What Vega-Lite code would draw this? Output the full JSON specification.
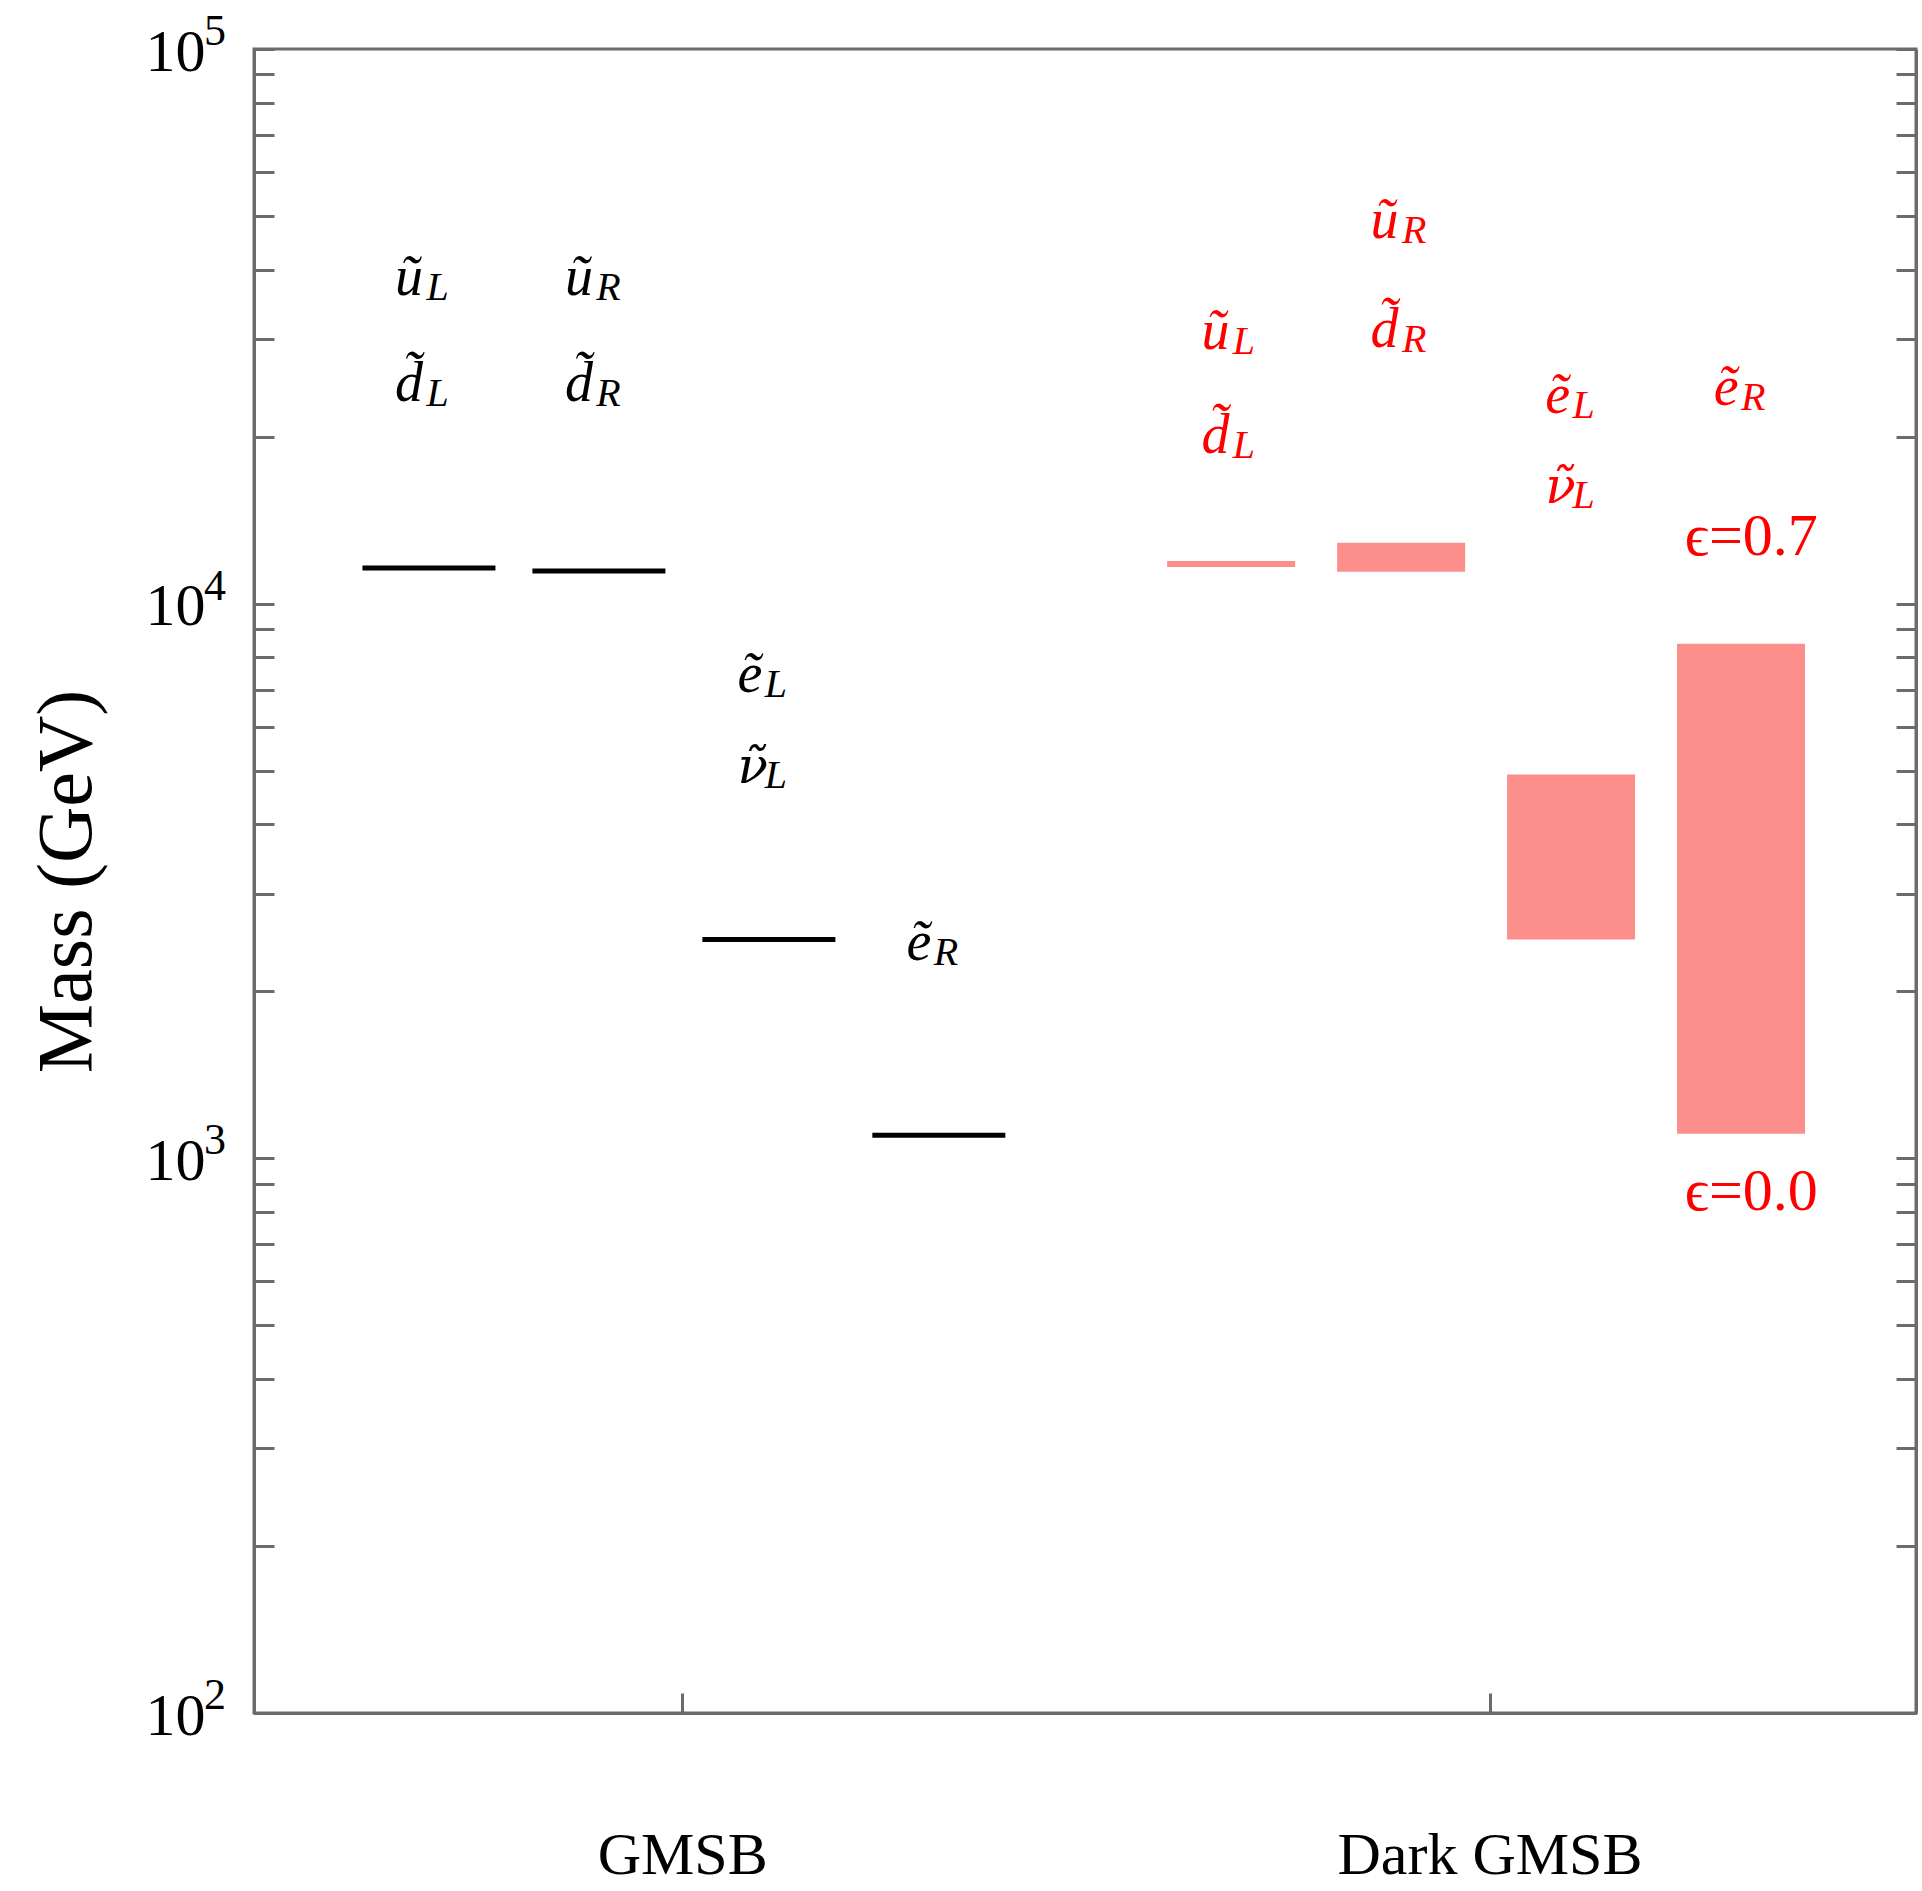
{
  "$schema": "https://vega.github.io/schema/vega-lite/v6.json",
  "width": 1662,
  "height": 1664,
  "autosize": {"type": "none"},
  "padding": {"left": 254, "top": 49, "right": 6, "bottom": 178},
  "background": "white",
  "config": {
    "view": {"stroke": "#6b6b6b", "strokeWidth": 3},
    "axis": {"grid": false}
  },
  "datasets": {
    "gmsb": [
      {"sparticle": "ũL d̃L", "c": 1, "mass": 11600},
      {"sparticle": "ũR d̃R", "c": 2, "mass": 11450},
      {"sparticle": "ẽL ν̃L", "c": 3, "mass": 2480},
      {"sparticle": "ẽR", "c": 4, "mass": 1100}
    ],
    "dark": [
      {"sparticle": "ũL d̃L", "c": 5.72, "lo": 11650, "hi": 11940},
      {"sparticle": "ũR d̃R", "c": 6.72, "lo": 11420, "hi": 12880},
      {"sparticle": "ẽL ν̃L", "c": 7.72, "lo": 2480, "hi": 4920},
      {"sparticle": "ẽR", "c": 8.72, "lo": 1107, "hi": 8470}
    ],
    "labels": [
      {"model": "GMSB", "main": "ũ", "sub": "L", "x": 0.8, "xs": 0.985, "m": 36000},
      {"model": "GMSB", "main": "d̃", "sub": "L", "x": 0.8, "xs": 0.985, "m": 23200},
      {"model": "GMSB", "main": "ũ", "sub": "R", "x": 1.8, "xs": 1.985, "m": 36000},
      {"model": "GMSB", "main": "d̃", "sub": "R", "x": 1.8, "xs": 1.985, "m": 23200},
      {"model": "GMSB", "main": "ẽ", "sub": "L", "x": 2.815, "xs": 2.975, "m": 6930},
      {"model": "GMSB", "main": "ν̃", "sub": "L", "x": 2.815, "xs": 2.975, "m": 4750},
      {"model": "GMSB", "main": "ẽ", "sub": "R", "x": 3.81, "xs": 3.97, "m": 2280},
      {"model": "Dark GMSB", "main": "ũ", "sub": "L", "x": 5.545, "xs": 5.73, "m": 28800},
      {"model": "Dark GMSB", "main": "d̃", "sub": "L", "x": 5.545, "xs": 5.73, "m": 18700},
      {"model": "Dark GMSB", "main": "ũ", "sub": "R", "x": 6.54, "xs": 6.725, "m": 45600},
      {"model": "Dark GMSB", "main": "d̃", "sub": "R", "x": 6.54, "xs": 6.725, "m": 29000},
      {"model": "Dark GMSB", "main": "ẽ", "sub": "L", "x": 7.568, "xs": 7.728, "m": 22070},
      {"model": "Dark GMSB", "main": "ν̃", "sub": "L", "x": 7.568, "xs": 7.728, "m": 15190},
      {"model": "Dark GMSB", "main": "ẽ", "sub": "R", "x": 8.56, "xs": 8.72, "m": 22820}
    ],
    "eps": [
      {"t": "ϵ=0.7", "x": 8.78, "m": 12240},
      {"t": "ϵ=0.0", "x": 8.78, "m": 807}
    ],
    "exps": [
      {"p": 100, "e": "2"},
      {"p": 1000, "e": "3"},
      {"p": 10000, "e": "4"},
      {"p": 100000, "e": "5"}
    ]
  },
  "resolve": {"axis": {"y": "independent"}},
  "layer": [
    {
      "data": {"name": "dark"},
      "mark": {"type": "bar", "width": 128, "color": "#fc8f8b", "opacity": 1},
      "encoding": {
        "x": {
          "field": "c", "type": "quantitative",
          "scale": {"domain": [0, 9.72], "nice": false, "zero": false},
          "axis": {
            "values": [2.49, 7.24],
            "labelExpr": "datum.value < 5 ? 'GMSB' : 'Dark GMSB'",
            "title": null,
            "tickSize": -20, "tickWidth": 3, "tickColor": "#6b6b6b",
            "domainColor": "#6b6b6b", "domainWidth": 3,
            "labelFont": "Liberation Serif", "labelFontSize": 60, "labelColor": "black",
            "labelBaseline": "alphabetic", "labelPadding": 180, "labelLimit": 0,
            "labelFlush": false, "labelOverlap": false
          }
        },
        "y": {
          "field": "lo", "type": "quantitative",
          "scale": {"type": "log", "domain": [100, 100000], "nice": false},
          "axis": {
            "orient": "left",
            "values": [100, 200, 300, 400, 500, 600, 700, 800, 900, 1000, 2000, 3000, 4000, 5000, 6000, 7000, 8000, 9000, 10000, 20000, 30000, 40000, 50000, 60000, 70000, 80000, 90000, 100000],
            "labelExpr": "datum.value == 100 || datum.value == 1000 || datum.value == 10000 || datum.value == 100000 ? '10' : ''",
            "tickSize": -20, "tickWidth": 3, "tickColor": "#6b6b6b",
            "domainColor": "#6b6b6b", "domainWidth": 3,
            "labelFont": "Liberation Serif", "labelFontSize": 60, "labelColor": "black",
            "labelPadding": 69, "labelOffset": 3, "labelFlush": false, "labelOverlap": false, "labelBound": false,
            "title": "Mass (GeV)",
            "titleFont": "Liberation Serif", "titleFontSize": 78, "titleFontWeight": "normal",
            "titleColor": "black", "titleAngle": -90, "titleBaseline": "alphabetic",
            "titleAlign": "center", "titleX": -164, "titleY": 832
          }
        },
        "y2": {"field": "hi"}
      }
    },
    {
      "data": {"name": "gmsb"},
      "mark": {"type": "tick", "orient": "horizontal", "size": 133, "thickness": 5, "color": "black", "opacity": 1},
      "encoding": {
        "x": {"field": "c", "type": "quantitative"},
        "y": {
          "field": "mass", "type": "quantitative",
          "axis": {
            "orient": "right",
            "values": [100, 200, 300, 400, 500, 600, 700, 800, 900, 1000, 2000, 3000, 4000, 5000, 6000, 7000, 8000, 9000, 10000, 20000, 30000, 40000, 50000, 60000, 70000, 80000, 90000, 100000],
            "labels": false, "title": null,
            "tickSize": -20, "tickWidth": 3, "tickColor": "#6b6b6b",
            "domainColor": "#6b6b6b", "domainWidth": 3
          }
        }
      }
    },
    {
      "data": {"name": "exps"},
      "mark": {"type": "text", "font": "Liberation Serif", "fontSize": 44, "align": "left", "baseline": "alphabetic", "dx": -55, "dy": -4, "color": "black"},
      "encoding": {
        "x": {"datum": 0, "type": "quantitative"},
        "y": {"field": "p", "type": "quantitative", "axis": null},
        "text": {"field": "e"}
      }
    },
    {
      "data": {"name": "labels"},
      "transform": [{"filter": "datum.main != 'ν̃'"}],
      "mark": {"type": "text", "font": "Liberation Serif", "fontStyle": "italic", "fontSize": 56, "align": "left", "baseline": "alphabetic"},
      "encoding": {
        "x": {"field": "x", "type": "quantitative"},
        "y": {"field": "m", "type": "quantitative", "axis": null},
        "text": {"field": "main"},
        "color": {"field": "model", "type": "nominal", "scale": {"domain": ["GMSB", "Dark GMSB"], "range": ["black", "#ff0000"]}, "legend": null}
      }
    },
    {
      "data": {"name": "labels"},
      "transform": [{"filter": "datum.main == 'ν̃'"}],
      "mark": {"type": "text", "font": "DejaVu Serif", "fontStyle": "italic", "fontSize": 50, "align": "left", "baseline": "alphabetic"},
      "encoding": {
        "x": {"field": "x", "type": "quantitative"},
        "y": {"field": "m", "type": "quantitative", "axis": null},
        "text": {"field": "main"},
        "color": {"field": "model", "type": "nominal", "scale": {"domain": ["GMSB", "Dark GMSB"], "range": ["black", "#ff0000"]}, "legend": null}
      }
    },
    {
      "data": {"name": "labels"},
      "mark": {"type": "text", "font": "Liberation Serif", "fontStyle": "italic", "fontSize": 40, "align": "left", "baseline": "alphabetic", "dy": 5},
      "encoding": {
        "x": {"field": "xs", "type": "quantitative"},
        "y": {"field": "m", "type": "quantitative", "axis": null},
        "text": {"field": "sub"},
        "color": {"field": "model", "type": "nominal", "scale": {"domain": ["GMSB", "Dark GMSB"], "range": ["black", "#ff0000"]}, "legend": null}
      }
    },
    {
      "data": {"name": "eps"},
      "mark": {"type": "text", "font": "Liberation Serif, DejaVu Serif", "fontSize": 60, "align": "center", "baseline": "alphabetic", "color": "#ff0000"},
      "encoding": {
        "x": {"field": "x", "type": "quantitative"},
        "y": {"field": "m", "type": "quantitative", "axis": null},
        "text": {"field": "t"}
      }
    }
  ]
}
